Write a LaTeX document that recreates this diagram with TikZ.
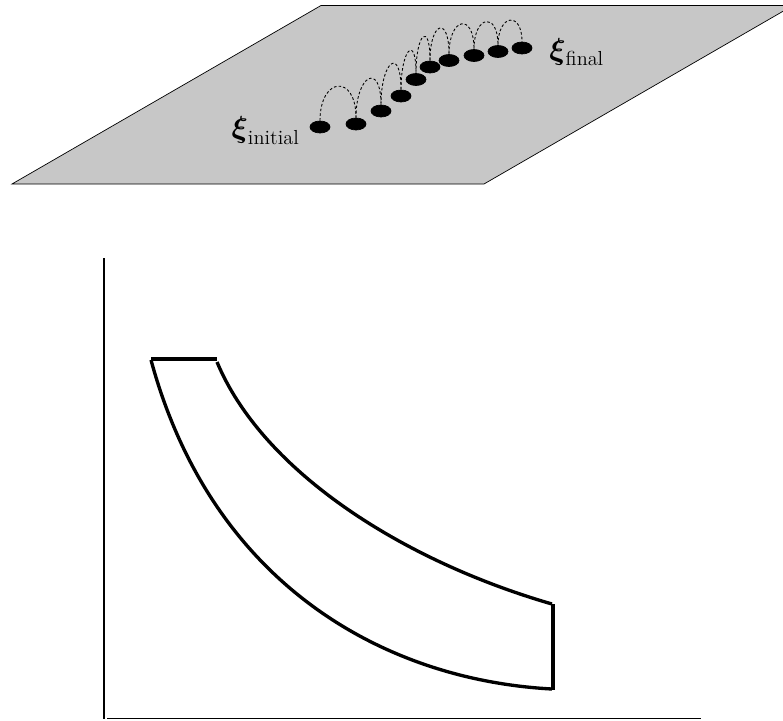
\documentclass[tikz,border=0pt]{standalone}
\usepackage{amsmath}
\usetikzlibrary{shapes.geometric}

\begin{document}
\begin{tikzpicture}[
    x=0.02cm, y=-0.02cm,
    plane/.style={draw, thin, fill=black!22},
    dot/.style={ellipse, draw, fill=black, inner sep=0pt, minimum width=0.4cm, minimum height=0.24cm},
    hop/.style={dashed, dash pattern=on 1.5pt off 1.2pt, line width=0.5pt},
    xilabel/.style={inner sep=0pt, font=\fontsize{16.5}{20}\selectfont},
    axis/.style={line width=0.6pt},
    band/.style={line width=1.9pt}
]
\useasboundingbox (0,0) rectangle (783,720);

% Plane
\draw[plane] (12,184) -- (321,5.5) -- (793,5.5) -- (484,184) -- cycle;

% Points on the plane
\node[dot] (d1) at (320,127)  {};
\node[dot] (d2) at (356,124)  {};
\node[dot] (d3) at (381,111)  {};
\node[dot] (d4) at (401,96)   {};
\node[dot] (d5) at (416,79.5) {};
\node[dot] (d6) at (430,67)   {};
\node[dot] (d7) at (449,60.5) {};
\node[dot] (d8) at (474,55.5) {};
\node[dot] (d9) at (498,51.5) {};
\node[dot] (d10) at (522,48)  {};

% Labels
\node[xilabel, anchor=base east] (xiinit) at (300,137.5) {$\boldsymbol{\xi}_{\text{initial}}$};
\node[xilabel, anchor=base west] (xifinal) at (549,59) {$\boldsymbol{\xi}_{\text{final}}$};

% Hops
\draw[hop] (d1.north) .. controls +(0,-44) and +(0,-44) .. (d2.north);
\draw[hop] (d2.north) .. controls +(0,-43) and +(0,-43) .. (d3.north);
\draw[hop] (d3.north) .. controls +(0,-44) and +(0,-44) .. (d4.north);
\draw[hop] (d4.north) .. controls +(0,-40) and +(0,-40) .. (d5.north);
\draw[hop] (d5.north) .. controls +(0,-40) and +(0,-40) .. (d6.north);
\draw[hop] (d6.north) .. controls +(0,-39) and +(0,-39) .. (d7.north);
\draw[hop] (d7.north) .. controls +(0,-37) and +(0,-37) .. (d8.north);
\draw[hop] (d8.north) .. controls +(0,-34) and +(0,-34) .. (d9.north);
\draw[hop] (d9.north) .. controls +(0,-31) and +(0,-31) .. (d10.north);

% Axes
\draw[axis] (104,258) -- (104,719);
\draw[axis] (107,718.5) -- (701,718.5);

% Band
\draw[band] (151,359) -- (217,359);
\draw[band] (151,360) .. controls (212,585) and (385,680) .. (552,689);
\draw[band] (217,362) .. controls (262,470) and (400,560) .. (552,604);
\draw[band] (553,604) -- (553,690);
\end{tikzpicture}
\end{document}
